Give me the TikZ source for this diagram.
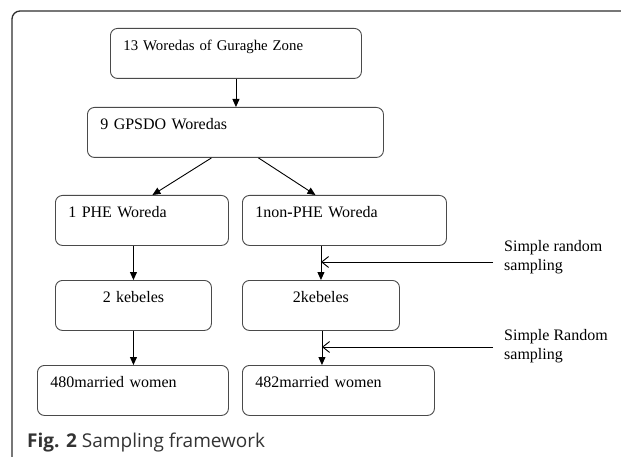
\documentclass[tikz,border=0pt]{standalone}
\usepackage{fontspec}
\setmainfont{Liberation Serif}
\newfontfamily\capfont{Open Sans}
\usetikzlibrary{arrows.meta,positioning}
\definecolor{boxgray}{HTML}{4A4A4A}
\definecolor{framegray}{HTML}{2E2E2E}
\definecolor{capgray}{HTML}{333333}
\begin{document}
\begin{tikzpicture}[x=1pt, y=-1pt, line join=round,
	stage/.style={draw=boxgray, line width=0.9pt, rounded corners=7pt, anchor=north west,
		inner xsep=13pt, inner ysep=0pt, text height=22pt, text depth=28pt,
		text width=#1, align=left, font=\fontsize{16}{19}\selectfont},
	down/.style={-{Triangle[length=8pt,width=7pt]}, line width=0.9pt},
	side/.style={-{Straight Barb[length=7pt,width=11pt]}, line width=0.9pt},
	sidelab/.style={anchor=west, inner sep=0pt, align=left, font=\fontsize{16}{19.5}\selectfont}]
	\useasboundingbox (0,0) rectangle (621,457);
	\draw[framegray, line width=1.3pt, rounded corners=8pt] (12,457)--(12,11)--(621,11);
	\node[stage=225pt, font=\fontsize{14.8}{18}\selectfont] (wz) at (110,28) {13 Woredas of Guraghe Zone};
	\node[stage=270pt] (gw) at (87,107) {9 GPSDO Woredas};
	\node[stage=147pt] (phe) at (55,195) {1 PHE Woreda};
	\node[stage=178pt] (nphe) at (242,195) {1non\textbf{-}PHE Woreda};
	\node[stage=130pt, align=center] (kb1) at (55,280) {2 kebeles};
	\node[stage=131pt, align=center] (kb2) at (242,280) {2kebeles};
	\node[stage=165pt] (mw1) at (37,365) {480married women};
	\node[stage=166pt] (mw2) at (242,365) {482married women};
	\draw[down] (wz.south)--(wz.south |- gw.north);
	\draw[down] ([xshift=-24pt]gw.south)--([xshift=10.5pt]phe.north);
	\draw[down] ([xshift=23pt]gw.south)--([xshift=-29pt]nphe.north);
	\draw[down] (kb1.north |- phe.south)--(kb1.north);
	\draw[down] (kb1.south)--(kb1.south |- mw1.north);
	\draw[down] (kb2.north |- nphe.south)--(kb2.north);
	\draw[down] ([xshift=1pt]kb2.south)--([xshift=1pt]kb2.south |- mw2.north);
	\coordinate (s1) at (493,262);
	\coordinate (s2) at (493,347);
	\node[sidelab, xshift=11pt, yshift=4.6pt] (sr1) at (s1) {Simple random\\sampling};
	\node[sidelab, xshift=11pt, yshift=0.6pt] (sr2) at (s2) {Simple Random\\sampling};
	\draw[side] (s1)--(s1 -| kb2.north);
	\draw[side] (s2)--([xshift=1pt]s2 -| kb2.south);
	\node[anchor=base west, inner sep=0pt, text=capgray, font=\capfont\fontsize{19}{22}\selectfont] (cap) at (27,447) {\textbf{Fig. 2} Sampling framework};
\end{tikzpicture}
\end{document}
